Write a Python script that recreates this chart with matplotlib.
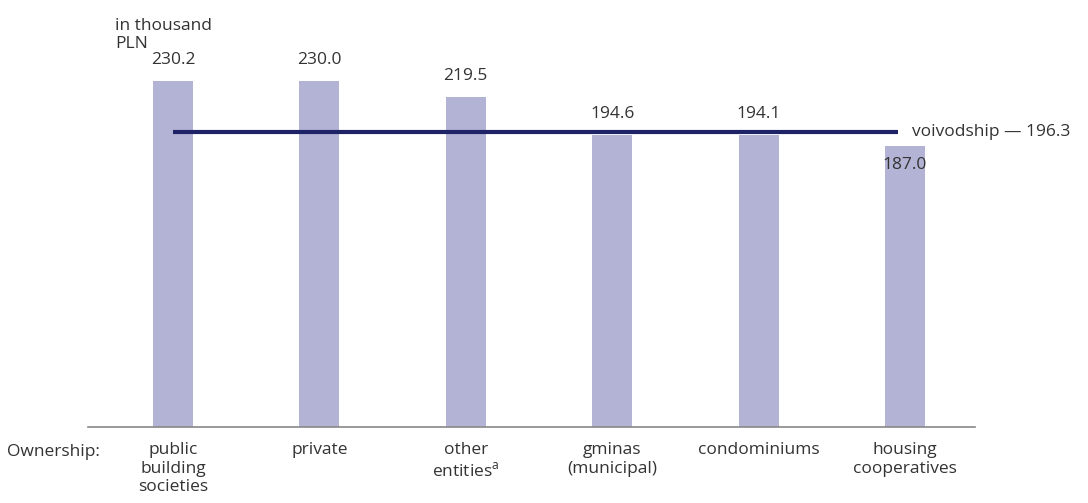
import matplotlib
matplotlib.use("Agg")
import matplotlib.pyplot as plt
import numpy as np

categories = ["public\nbuilding\nsocieties", "private", "other\nentities$^{\\mathregular{a}}$",
              "gminas\n(municipal)", "condominiums", "housing\ncooperatives"]
values = [230.2, 230.0, 219.5, 194.6, 194.1, 187.0]
voivodship = 196.3

BAR = "#b3b3d5"
LINE = "#1e2266"
TEXT = "#333333"

plt.rcParams["font.family"] = ["Open Sans", "DejaVu Sans"]
plt.rcParams["font.size"] = 12.5

W, H = 1088, 503
fig = plt.figure(figsize=(W / 100, H / 100), dpi=100)
ax = fig.add_axes([88 / W, 76 / H, 887 / W, 407 / H])

x = np.arange(len(values))
ax.bar(x, values, width=0.273, color=BAR, zorder=1)
ax.set_xlim(-0.58, 5.478)
ax.set_ylim(0, 270.8)

ax.plot([0, 4.95], [voivodship, voivodship], color=LINE, lw=3, zorder=3,
        solid_capstyle="butt")
ax.text(5.05, voivodship, f"voivodship \u2014 {voivodship}", ha="left", va="center",
        color=TEXT, clip_on=False)

for xi, v in zip(x, values):
    # labels go above the bar, except when the bar top sits well under the line
    off = 15 if v > voivodship - 5 else -14
    ax.annotate(f"{v:.1f}", (xi, v), xytext=(0, off), textcoords="offset points",
                ha="center", va="center", color=TEXT, zorder=4)

for s in ["top", "right", "left"]:
    ax.spines[s].set_visible(False)
ax.spines["bottom"].set_color("#888888")
ax.spines["bottom"].set_linewidth(1.2)
ax.set_yticks([])
ax.set_xticks(x, labels=categories, color=TEXT, linespacing=1.2)
ax.tick_params(axis="x", length=0, pad=11)

fig.text(7 / W, 1 - 452 / H, "Ownership:", ha="left", va="center", color=TEXT)
fig.text(115 / W, 1 - 18 / H, "in thousand\nPLN", ha="left", va="top", color=TEXT,
         linespacing=1.2)

fig.savefig("out.png", dpi=100)
